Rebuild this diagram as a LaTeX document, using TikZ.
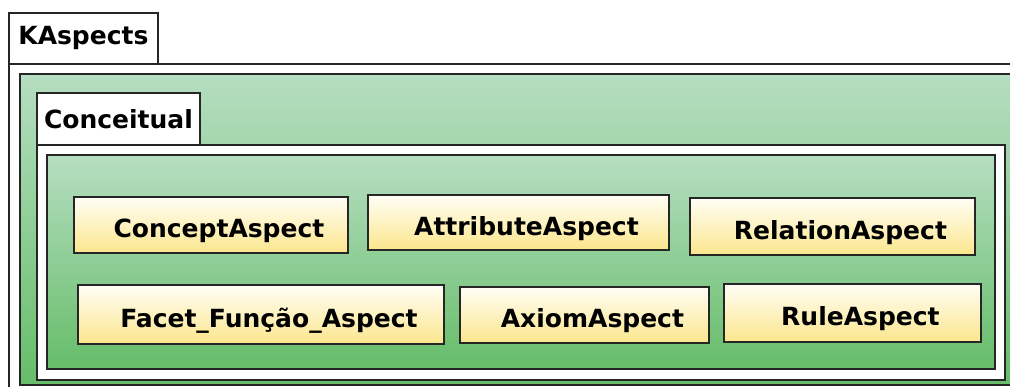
\documentclass[tikz,border=0pt]{standalone}
\usepackage{fontspec}
\setmainfont{DejaVu Sans}
\definecolor{greentop}{HTML}{B6DEC1}
\definecolor{greenbot}{HTML}{66BD69}
\definecolor{yellowtop}{HTML}{FFFEF6}
\definecolor{yellowbot}{HTML}{FBE68C}
\begin{document}
\begin{tikzpicture}[x=1pt, y=-1pt,
	frame/.style={draw=black!85, line width=1.9pt, anchor=north west, inner sep=0pt},
	pkgtab/.style={frame, fill=white, font=\bfseries\fontsize{25}{30}\selectfont},
	pkgbody/.style={frame, fill=white},
	pkgarea/.style={frame, top color=greentop, bottom color=greenbot},
	aspect/.style={frame, top color=yellowtop, bottom color=yellowbot,
		font=\bfseries\fontsize{25}{30}\selectfont, text height=26pt, text depth=0pt,
		execute at begin node=\hspace*{16pt}}]
				\clip (0,0) rectangle (1010,387);
				% KAspects package
				\node [pkgtab, minimum width=149pt, minimum height=51pt] (kaspects) at (8,12) {KAspects};
				\node [pkgbody, minimum width=1020pt, minimum height=340pt] (kaspectsBody) at (8,63) {};
				\node [pkgarea, minimum width=1010pt, minimum height=311pt] (kaspectsArea) at (19,73) {};
				% Conceitual package
				\node [pkgtab, minimum width=163pt, minimum height=52pt] (conceitual) at (36,92) {Conceitual};
				\node [pkgbody, minimum width=968pt, minimum height=235pt] (conceitualBody) at (36,144) {};
				\node [pkgarea, minimum width=948pt, minimum height=214pt] (conceitualArea) at (46,154) {};
				% aspects
				\node [aspect, minimum width=274pt, minimum height=56pt] (conceptAspect) at (73,196) {ConceptAspect};
				\node [aspect, minimum width=301pt, minimum height=55pt] (attributeAspect) at (367,194) {AttributeAspect};
				\node [aspect, minimum width=285pt, minimum height=57pt] (relationAspect) at (689,197) {RelationAspect};
				\node [aspect, minimum width=366pt, minimum height=59pt] (facetAspect) at (77,284) {Facet\_Função\_Aspect};
				\node [aspect, minimum width=249pt, minimum height=56pt] (axiomAspect) at (459,286) {AxiomAspect};
				\node [aspect, minimum width=257pt, minimum height=58pt] (ruleAspect) at (723,283) {RuleAspect};
			\end{tikzpicture}
\end{document}
